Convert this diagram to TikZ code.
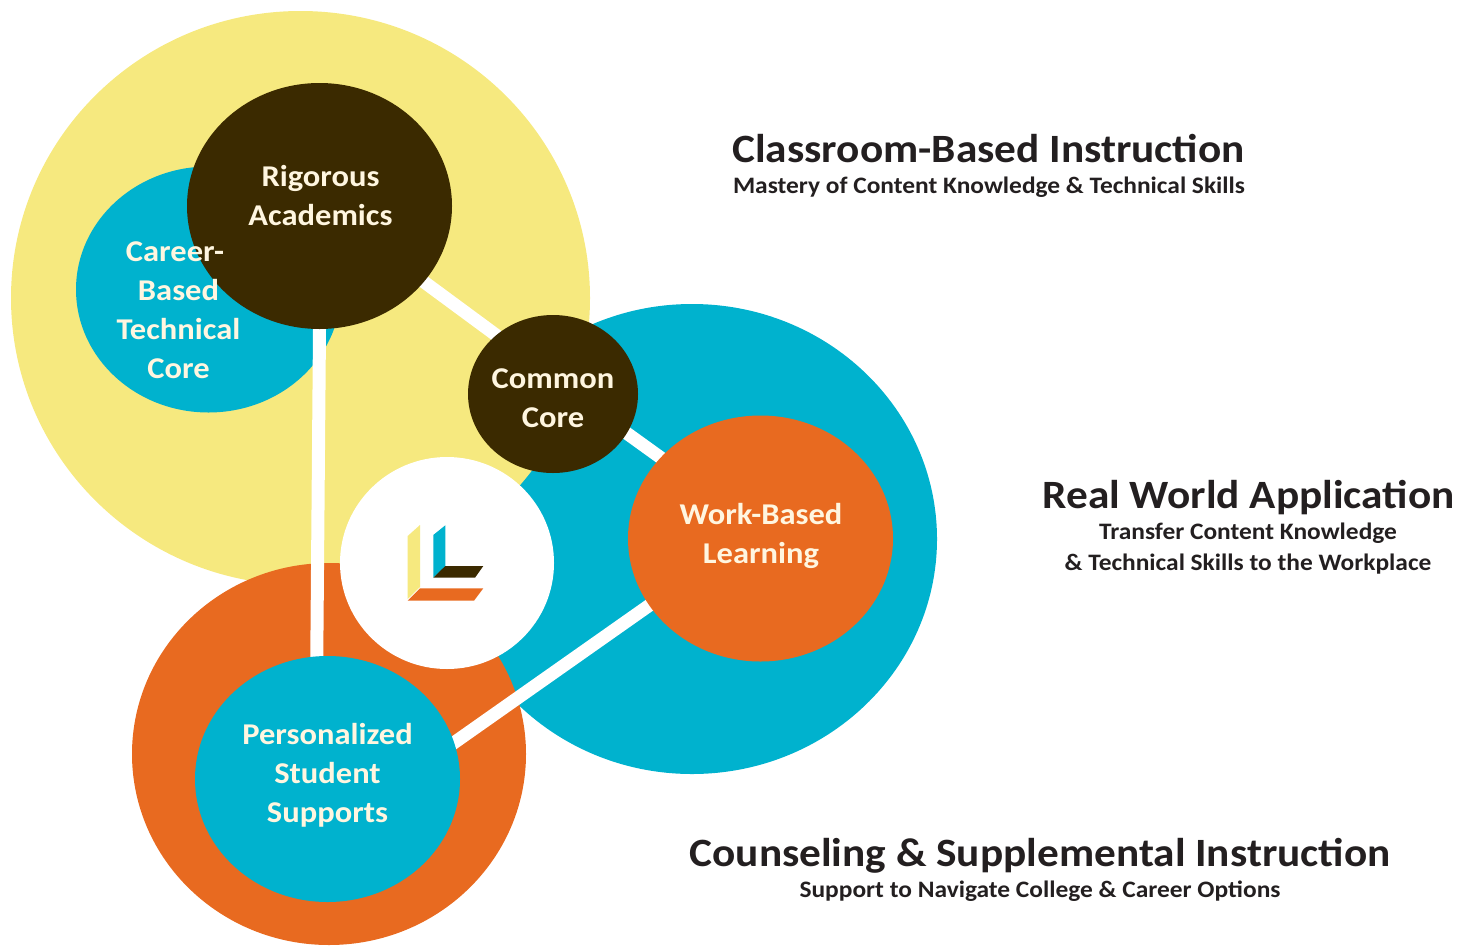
\documentclass[tikz,border=0pt]{standalone}
\usepackage{fontspec}
\setmainfont[FakeStretch=1.077]{Carlito}
\usetikzlibrary{shapes.geometric}
\definecolor{cyellow}{HTML}{F6E97F}
\definecolor{cblue}{HTML}{00B2CE}
\definecolor{corange}{HTML}{E86A20}
\definecolor{cdark}{HTML}{3B2A00}
\definecolor{ccream}{HTML}{FFF6E0}
\definecolor{cink}{HTML}{231F20}
\tikzset{
  x=1pt,y=-1pt,
  blob/.style={ellipse,inner sep=0pt,outer sep=0pt},
  small/.style={blob,minimum width=265pt,minimum height=246pt},
  link/.style={draw=white,line width=13pt,shorten <=-8pt,shorten >=-8pt},
  lab/.style={font=\fontsize{30.2}{39}\selectfont\bfseries,text=ccream,align=center,inner sep=0pt},
  head/.style={font=\fontsize{40.2}{44}\selectfont\bfseries,text=cink,inner sep=0pt},
  sub/.style={font=\fontsize{23.6}{31}\selectfont\bfseries,text=cink,align=center,inner sep=0pt},
}
\begin{document}
\begin{tikzpicture}
\useasboundingbox (0,0) rectangle (1458,945);
\clip (0,0) rectangle (1458,945);
% large circles
\node[blob,fill=cblue,minimum width=490pt,minimum height=470pt] (bigb) at (692,539) {};
\node[blob,fill=cyellow,minimum width=579pt,minimum height=574pt] (bigy) at (300.5,298) {};
\node[blob,fill=corange,minimum width=394pt,minimum height=382pt] (bigo) at (329,754) {};
\node[small,fill=cblue] (career) at (208.5,289.5) {};
% coordinate-only shapes for connectors: nodes are drawn after the links
\path node[small] (rigA) at (319.5,206) {}
      node[blob,minimum width=170pt,minimum height=158pt] (comA) at (553,394) {}
      node[small] (wrkA) at (760.5,538.5) {}
      node[small] (perA) at (327.5,779) {};
% connectors
\draw[link] (rigA.270.4) -- (perA.95);
\draw[link] (rigA.-36.5) -- (comA.134.8);
\draw[link] (comA.-28.6) -- (wrkA.141.7);
\draw[link] (wrkA.211.5) -- (perA.16);
% logo
\node[blob,fill=white,minimum width=214pt,minimum height=212pt] (hub) at (447,563) {};
\fill[cyellow] (407.7,536) -- (420,525) -- (420,587) -- (407.7,599) -- cycle;
\fill[cblue] (433.3,535) -- (445.3,525.3) -- (445.3,566.7) -- (433.3,577.7) -- cycle;
\fill[cdark] (433.3,577.7) -- (445.3,566) -- (483.3,566) -- (475,577.7) -- cycle;
\fill[corange] (407.7,600.7) -- (420,588.3) -- (483.3,588.3) -- (474,600.7) -- cycle;
% small circles
\node[small,fill=cdark] (rig) at (319.5,206) {};
\node[blob,fill=cdark,minimum width=170pt,minimum height=158pt] (com) at (553,394) {};
\node[small,fill=corange] (wrk) at (760.5,538.5) {};
\node[small,fill=cblue] (per) at (327.5,779) {};
% labels
\node[lab] (tcareer) at (178.5,310) {Career-\hbox to 7pt{}\\Based\\Technical\\Core};
\node[lab] (trig) at (320.5,196) {Rigorous\\Academics};
\node[lab] (tcom) at (553,398) {Common\\Core};
\node[lab] (twrk) at (761,536) {Work-Based\\Learning};
\node[lab] (tper) at (327.5,775) {Personalized\\Student\\Supports};
% right-hand text
\node[head] (h1) at (988.5,149) {Classroom-Based Instruction};
\node[sub] (s1) at (989,187) {Mastery of Content Knowledge \& Technical Skills};
\node[head] (h2) at (1248.5,498) {Real World Application};
\node[sub] (s2) at (1248,548.5) {Transfer Content Knowledge\\\& Technical Skills to the Workplace};
\node[head] (h3) at (1040,856) {Counseling \& Supplemental Instruction};
\node[sub] (s3) at (1040,891) {Support to Navigate College \& Career Options};
\end{tikzpicture}
\end{document}
